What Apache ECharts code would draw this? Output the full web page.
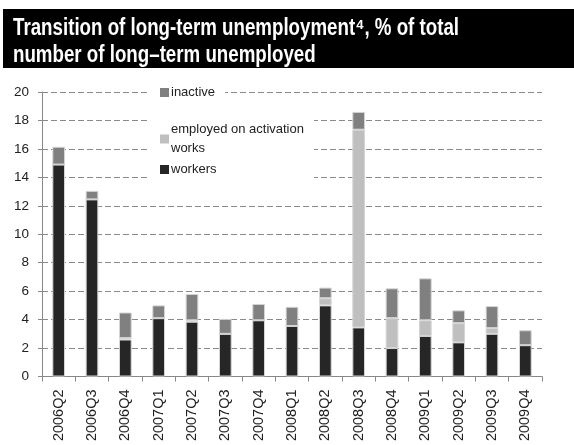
<!DOCTYPE html>
<html>
<head>
<meta charset="utf-8">
<script src="https://cdn.jsdelivr.net/npm/echarts@6/dist/echarts.min.js"></script>
<style>
  html, body { margin: 0; padding: 0; background: #fff; }
  #chart { width: 574px; height: 445px; }
</style>
</head>
<body>
<div id="chart"></div>
<script>
/* data */
const quarters = ['2006Q2', '2006Q3', '2006Q4', '2007Q1', '2007Q2', '2007Q3', '2007Q4', '2008Q1',
                  '2008Q2', '2008Q3', '2008Q4', '2009Q1', '2009Q2', '2009Q3', '2009Q4'];
const workers  = [14.9, 12.45, 2.6, 4.1, 3.85, 3.0, 3.95, 3.55, 5.0, 3.45, 2.0, 2.85, 2.4, 3.0, 2.2];
const employed = [0, 0, 0.1, 0, 0.1, 0, 0, 0, 0.5, 13.9, 2.1, 1.1, 1.35, 0.4, 0];
const inactive = [1.25, 0.6, 1.8, 0.9, 1.85, 1.05, 1.15, 1.35, 0.75, 1.25, 2.1, 2.95, 0.9, 1.55, 1.05];
const yTicks = [0, 20, 2];

const chart = echarts.init(document.getElementById('chart'));

const font = 'Liberation Sans, Arial, sans-serif';
const bar = (name, data, color) => ({
    name, type: 'bar', stack: 'total', data,
    barWidth: '38%',
    itemStyle: { color, borderColor: '#d4d4d4', borderWidth: 1 }
});
const legendText = { fontSize: 13, color: '#222', fontFamily: font, padding: [0, 0, 0, -3], lineHeight: 19 };

const option = {
    animation: false,
    textStyle: { fontFamily: font },
    graphic: [
        {
            type: 'rect', left: 3, top: 9, z: 0,
            shape: { width: 571, height: 59 },
            style: { fill: '#000' }
        },
        {
            type: 'text', x: 13, y: 14.5, z: 1, scaleX: 0.78,
            style: {
                text: 'Transition of long-term unemployment⁴, % of total\nnumber of long–term unemployed',
                fill: '#fff', font: 'bold 24px ' + font, lineHeight: 27
            }
        }
    ],
    grid: { left: 42, right: 32, top: 92, bottom: 68.5 },
    legend: [
        {
            orient: 'vertical', left: 150, top: 82,
            padding: [1, 10, 18, 10], backgroundColor: '#fff',
            itemWidth: 9, itemHeight: 9, icon: 'rect',
            itemStyle: { borderWidth: 0 },
            data: ['inactive'],
            textStyle: legendText
        },
        {
            orient: 'vertical', left: 150, top: 120,
            padding: [0, 10, 6, 10], backgroundColor: '#fff',
            itemWidth: 9, itemHeight: 9, itemGap: 2, icon: 'rect',
            itemStyle: { borderWidth: 0 },
            data: ['employed on activation works', 'workers'],
            formatter: n => n === 'employed on activation works' ? 'employed on activation\nworks' : n,
            textStyle: legendText
        }
    ],
    xAxis: {
        type: 'category', data: quarters,
        axisLine: { lineStyle: { color: '#888' } },
        axisTick: { show: true, length: 5, lineStyle: { color: '#888' } },
        axisLabel: { rotate: 90, fontSize: 14.5, color: '#222', margin: 13, fontFamily: font }
    },
    yAxis: {
        type: 'value', min: yTicks[0], max: yTicks[1], interval: yTicks[2],
        axisLine: { show: true, lineStyle: { color: '#888' } },
        axisTick: { show: true, length: 4, lineStyle: { color: '#888' } },
        axisLabel: { fontSize: 13.5, color: '#222', margin: 13, fontFamily: font },
        splitLine: { lineStyle: { color: '#8a8a8a', type: [6, 3], width: 1 } }
    },
    series: [
        bar('workers', workers, '#262626'),
        bar('employed on activation works', employed, '#bfbfbf'),
        bar('inactive', inactive, '#808080')
    ]
};

chart.setOption(option);
</script>
</body>
</html>
